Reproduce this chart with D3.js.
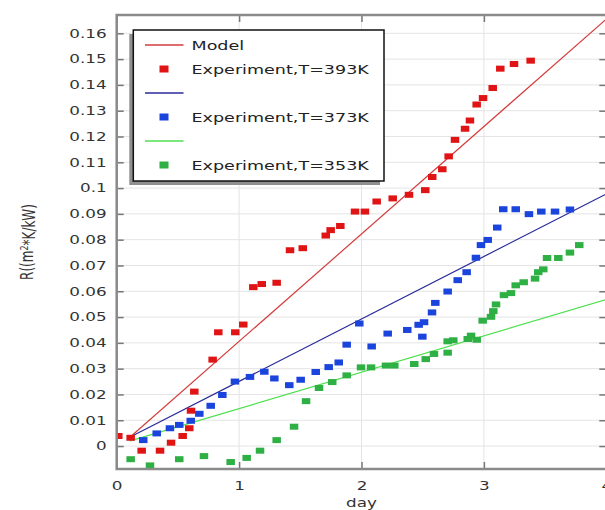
<!DOCTYPE html>
<html>
<head>
<meta charset="utf-8">
<script src="https://cdn.jsdelivr.net/npm/d3@7/dist/d3.min.js"></script>
<style>
  html, body { margin: 0; padding: 0; background: #fff; }
  svg { display: block; font-family: "DejaVu Sans", sans-serif; }
</style>
</head>
<body>
<svg id="chart" width="605" height="510"></svg>
<script>
// ---- data ----
const xTicks = [0, 1, 2, 3, 4];
const yTicks = [0, 0.01, 0.02, 0.03, 0.04, 0.05, 0.06, 0.07, 0.08, 0.09, 0.1, 0.11, 0.12, 0.13, 0.14, 0.15, 0.16];

const day393 = [0.013,0.114,0.204,0.354,0.444,0.539,0.593,0.607,0.634,0.784,0.830,0.969,1.034,1.116,1.185,1.307,1.416,1.52,1.708,1.748,1.827,1.947,2.028,2.124,2.255,2.388,2.521,2.578,2.660,2.712,2.764,2.846,2.886,2.941,2.993,3.072,3.134,3.246,3.382];
const r393   = [0.0039,0.0032,-0.0018,-0.0018,0.0013,0.0039,0.0069,0.0137,0.0211,0.0335,0.0441,0.0441,0.0471,0.0616,0.0628,0.0633,0.0759,0.0767,0.0816,0.0837,0.0853,0.0909,0.0909,0.0948,0.0960,0.0974,0.0992,0.1043,0.1073,0.1123,0.1187,0.1230,0.1262,0.1324,0.1349,0.1388,0.1463,0.1481,0.1494];

const day373 = [0.217,0.327,0.435,0.511,0.605,0.675,0.768,0.863,0.966,1.089,1.206,1.288,1.410,1.503,1.626,1.732,1.814,1.879,1.982,2.083,2.214,2.374,2.467,2.497,2.511,2.576,2.603,2.704,2.786,2.859,2.935,2.976,3.031,3.109,3.158,3.260,3.368,3.469,3.581,3.703];
const r373   = [0.0023,0.0049,0.0069,0.0082,0.0098,0.0125,0.0156,0.0198,0.0250,0.0268,0.0288,0.0262,0.0236,0.0257,0.0287,0.0306,0.0324,0.0393,0.0475,0.0386,0.0436,0.0450,0.0470,0.0424,0.0480,0.0518,0.0555,0.0599,0.0643,0.0674,0.0730,0.0779,0.0799,0.0847,0.0918,0.0918,0.0899,0.0909,0.0909,0.0917];

const day353 = [0.114,0.272,0.511,0.713,0.931,1.062,1.171,1.307,1.449,1.547,1.653,1.761,1.879,1.996,2.078,2.200,2.268,2.431,2.525,2.592,2.704,2.704,2.750,2.868,2.895,2.941,2.990,3.058,3.077,3.099,3.164,3.221,3.260,3.325,3.418,3.444,3.485,3.516,3.608,3.703,3.779];
const r353   = [-0.0051,-0.0075,-0.0051,-0.0039,-0.0062,-0.0046,-0.0018,0.0023,0.0075,0.0174,0.0225,0.0248,0.0274,0.0305,0.0305,0.0312,0.0312,0.0318,0.0337,0.0357,0.0362,0.0406,0.0410,0.0415,0.0428,0.0412,0.0486,0.0501,0.0523,0.0549,0.0585,0.0593,0.0623,0.0635,0.0649,0.0674,0.0685,0.0729,0.0729,0.0750,0.0779];

const modelDays = [0.11, 4];
const model393 = [0.0035, 0.1655];
const model373 = [0.0035, 0.0977];
const model353 = [0.0020, 0.0568];

const legendLabels = ["Model", "Experiment,T=393K", "", "Experiment,T=373K", "", "Experiment,T=353K"];

// ---- layout ----
const L = 116.7, R = 606.3, T = 15, B = 469;
const SX = 1.4; // horizontal stretch of text in the reference

const svg = d3.select("#chart");
const x = d3.scaleLinear().domain([0, 4]).range([L, R]);
const y = d3.scaleLinear().domain([-0.0089, 0.1671]).range([B, T]);

// grid
const grid = svg.append("g");
grid.selectAll(".gx").data(xTicks).join("line")
  .attr("x1", d => x(d)).attr("x2", d => x(d)).attr("y1", T).attr("y2", B)
  .attr("stroke", "#e4e4e4").attr("stroke-width", 1);
grid.selectAll(".gy").data(yTicks).join("line")
  .attr("x1", L).attr("x2", R).attr("y1", d => y(d)).attr("y2", d => y(d))
  .attr("stroke", "#e4e4e4").attr("stroke-width", 1);

// model lines
const clip = svg.append("clipPath").attr("id", "clip").append("rect")
  .attr("x", L).attr("y", T).attr("width", R - L).attr("height", B - T);
const plot = svg.append("g").attr("clip-path", "url(#clip)");
const lineGen = d3.line().x(d => x(d[0])).y(d => y(d[1]));
const models = [
  { v: model393, c: "#d43c3c" },
  { v: model373, c: "#2a2a9a" },
  { v: model353, c: "#4ee04e" }
];
models.forEach(m => {
  plot.append("path").datum(modelDays.map((d, i) => [d, m.v[i]]))
    .attr("d", lineGen).attr("fill", "none").attr("stroke", m.c).attr("stroke-width", 1.2);
});

// experiment points
const pw = 8.5, ph = 6;
const series = [
  { xs: day353, ys: r353, c: "#2fb044" },
  { xs: day373, ys: r373, c: "#1a44dc" },
  { xs: day393, ys: r393, c: "#e01414" }
];
series.forEach(s => {
  plot.append("g").selectAll("rect").data(s.xs.map((d, i) => [d, s.ys[i]])).join("rect")
    .attr("x", d => x(d[0]) - pw / 2).attr("y", d => y(d[1]) - ph / 2)
    .attr("width", pw).attr("height", ph).attr("fill", s.c);
});

// axes
function styleAxis(g) {
  g.select(".domain").remove();
  g.selectAll(".tick line").attr("stroke", "#777").attr("stroke-width", 1.5);
  g.selectAll("text").attr("fill", "#333").style("font-size", "12px").style("font-family", "DejaVu Sans, sans-serif");
}
const fmt = d => String(Number(d.toFixed(2)));

const gl = svg.append("g").attr("transform", `translate(${L},0)`)
  .call(d3.axisLeft(y).tickValues(yTicks).tickFormat(fmt).tickSizeInner(-7).tickSizeOuter(0).tickPadding(10));
styleAxis(gl);
gl.selectAll("text").attr("x", -10 / SX).attr("transform", `scale(${SX},1)`);

const gb = svg.append("g").attr("transform", `translate(0,${B})`)
  .call(d3.axisBottom(x).tickValues(xTicks).tickFormat(d3.format("d")).tickSizeInner(-7).tickSizeOuter(0).tickPadding(12));
styleAxis(gb);
gb.selectAll("text").attr("transform", `scale(${SX},1)`).attr("x", 0);
gb.selectAll(".tick").each(function (d) {
  // keep scaling centered on each tick
});

const gr = svg.append("g").attr("transform", `translate(${R},0)`)
  .call(d3.axisRight(y).tickValues(yTicks).tickFormat("").tickSizeInner(-7).tickSizeOuter(0));
styleAxis(gr);
const gt = svg.append("g").attr("transform", `translate(0,${T})`)
  .call(d3.axisTop(x).tickValues(xTicks).tickFormat("").tickSizeInner(-7).tickSizeOuter(0));
styleAxis(gt);

// frame
svg.append("rect").attr("x", L).attr("y", T).attr("width", R - L).attr("height", B - T)
  .attr("fill", "none").attr("stroke", "#8a8a8a").attr("stroke-width", 2.5);

// axis titles
svg.append("text")
  .attr("transform", `translate(${(L + R) / 2},503) scale(${SX},1)`)
  .attr("text-anchor", "middle").attr("dy", "0.35em")
  .attr("fill", "#333").style("font-size", "12px").text("day");

const yl = svg.append("text")
  .attr("transform", `translate(27,${(T + B) / 2}) scale(${SX},1) rotate(-90)`)
  .attr("text-anchor", "middle").attr("dy", "0.35em")
  .attr("fill", "#333").style("font-size", "12px");
yl.append("tspan").text("R((m");
yl.append("tspan").attr("dy", "-0.45em").style("font-size", "8px").text("2");
yl.append("tspan").attr("dy", "0.45em").text("*K/kW)");

// legend
const lg = svg.append("g");
const lx = 133.3, ly = 30, lw = 250.7, lh = 151;
lg.append("rect").attr("x", lx - 4).attr("y", ly + 4).attr("width", lw).attr("height", lh).attr("fill", "#8f8f8f");
lg.append("rect").attr("x", lx).attr("y", ly).attr("width", lw).attr("height", lh)
  .attr("fill", "#fff").attr("stroke", "#111").attr("stroke-width", 1.5);
const rowY = [45, 69, 93, 117, 141, 165];
const legendItems = [
  { type: "line", c: "#d43c3c" },
  { type: "rect", c: "#e01414" },
  { type: "line", c: "#2a2a9a" },
  { type: "rect", c: "#1a44dc" },
  { type: "line", c: "#4ee04e" },
  { type: "rect", c: "#2fb044" }
];
legendItems.forEach((it, i) => {
  const yy = rowY[i];
  if (it.type === "line") {
    lg.append("line").attr("x1", 145).attr("x2", 183.5).attr("y1", yy).attr("y2", yy)
      .attr("stroke", it.c).attr("stroke-width", 1.3);
  } else {
    lg.append("rect").attr("x", 164 - 4.5).attr("y", yy - 3.5).attr("width", 9).attr("height", 7).attr("fill", it.c);
  }
  if (legendLabels[i]) {
    lg.append("text").attr("transform", `translate(191.5,${yy}) scale(1.35,1)`)
      .attr("dy", "0.36em").attr("fill", "#222").style("font-size", "13px").text(legendLabels[i]);
  }
});
</script>
</body>
</html>
